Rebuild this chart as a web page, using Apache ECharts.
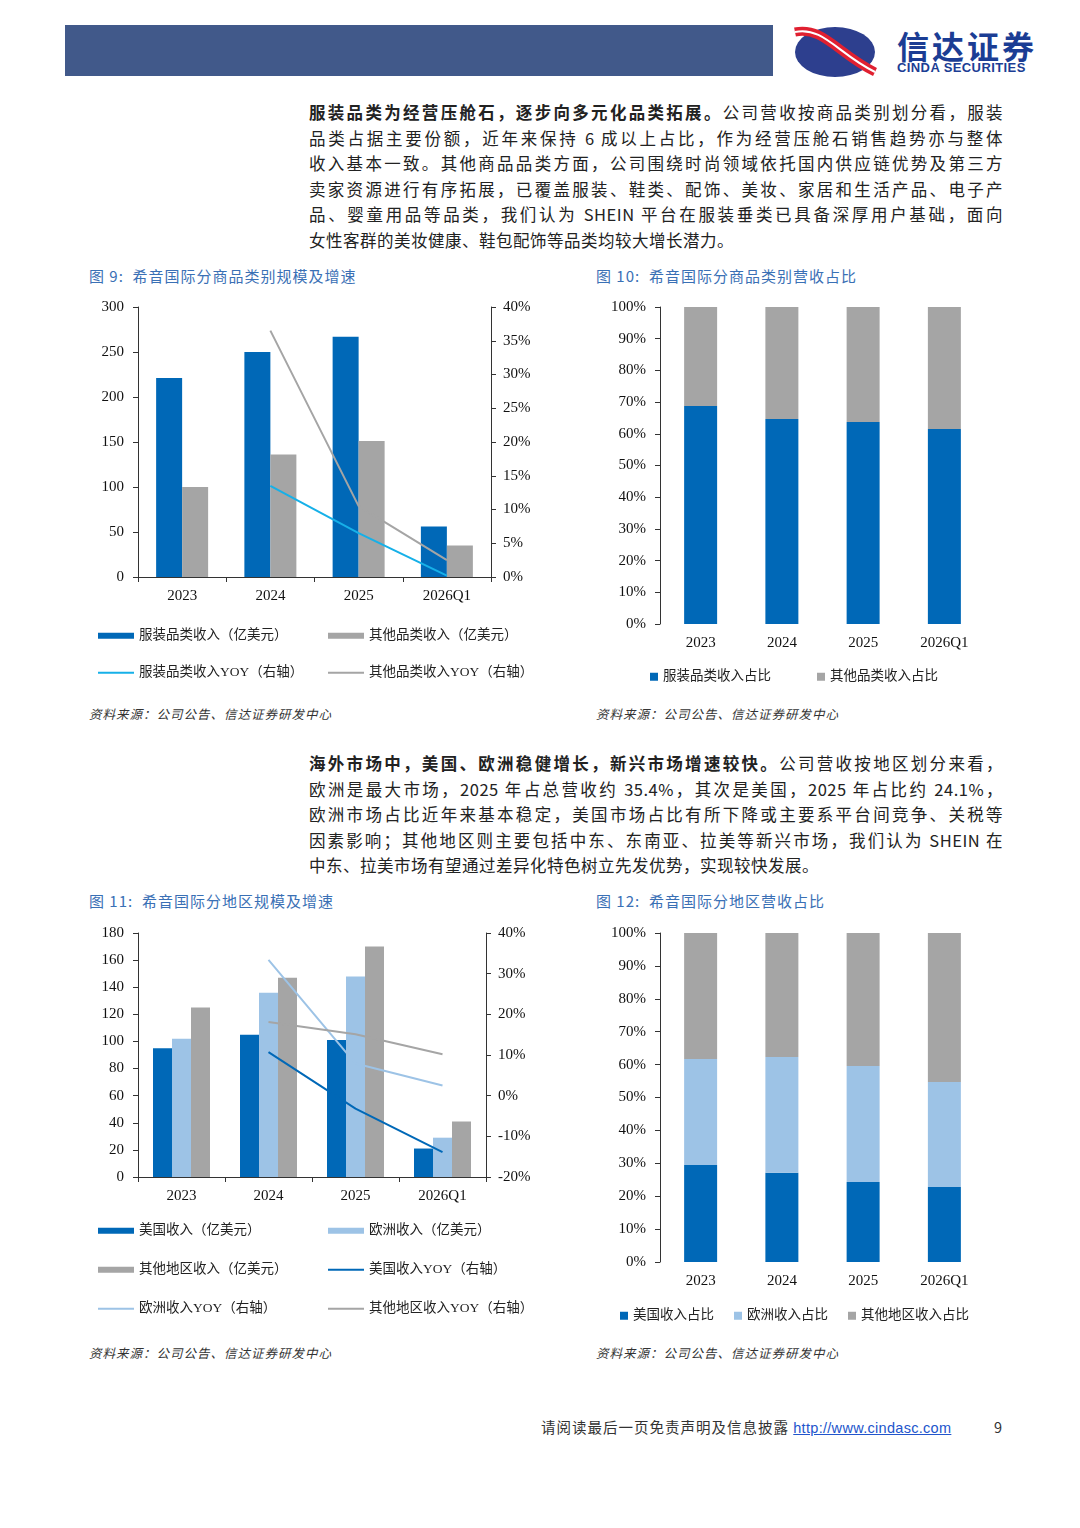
<!DOCTYPE html>
<html><head><meta charset="utf-8">
<script src="https://cdn.jsdelivr.net/npm/echarts@6/dist/echarts.min.js"></script>
<style>
body{margin:0;width:1080px;height:1528px;position:relative;background:#fff;font-family:"Noto Sans CJK SC",sans-serif;overflow:hidden}
.abs{position:absolute}
.para{left:309px;width:694px;font-size:16.5px;line-height:25.5px;color:#222}
.para div{text-align:justify;text-align-last:justify;white-space:nowrap;letter-spacing:0.5px}
.para div.last{text-align-last:left}
.cap{font-size:15px;color:#3a70b5;letter-spacing:1px}
.src{font-size:12.5px;color:#333;font-style:italic;letter-spacing:1px}
</style></head><body>
<div class="abs" style="left:65px;top:25px;width:708px;height:51px;background:#41598a"></div>
<svg class="abs" style="left:793px;top:24px" width="85" height="56" viewBox="0 0 85 56">
<ellipse cx="42" cy="28" rx="40" ry="25" fill="#2d3f8e"/>
<path d="M2,8 C30,2 45,30 82,48" stroke="#e02030" stroke-width="9" fill="none"/>
<path d="M2,8 C30,2 45,30 82,48" stroke="#fff" stroke-width="2" fill="none"/>
</svg>
<div class="abs" style="left:897px;top:28px;font-size:32px;font-weight:bold;color:#1b3d94;letter-spacing:3px;line-height:34px">信达证券</div>
<div class="abs" style="left:897px;top:60px;font-size:13px;font-weight:bold;color:#1b3d94;font-family:'Liberation Sans';letter-spacing:0.4px">CINDA SECURITIES</div>

<div class="abs para" style="top:100px">
<div><b>服装品类为经营压舱石，逐步向多元化品类拓展。</b>公司营收按商品类别划分看，服装</div>
<div>品类占据主要份额，近年来保持 6 成以上占比，作为经营压舱石销售趋势亦与整体</div>
<div>收入基本一致。其他商品品类方面，公司围绕时尚领域依托国内供应链优势及第三方</div>
<div>卖家资源进行有序拓展，已覆盖服装、鞋类、配饰、美妆、家居和生活产品、电子产</div>
<div>品、婴童用品等品类，我们认为 SHEIN 平台在服装垂类已具备深厚用户基础，面向</div>
<div class="last">女性客群的美妆健康、鞋包配饰等品类均较大增长潜力。</div>
</div>
<div class="abs cap" style="left:89px;top:265px">图 9:&nbsp; 希音国际分商品类别规模及增速</div>
<div class="abs cap" style="left:596px;top:265px">图 10:&nbsp; 希音国际分商品类别营收占比</div>
<div id="c1" class="abs" style="left:90px;top:295px;width:460px;height:400px"></div>
<div id="c2" class="abs" style="left:595px;top:295px;width:420px;height:400px"></div>
<div class="abs src" style="left:89px;top:704px">资料来源：公司公告、信达证券研发中心</div>
<div class="abs src" style="left:596px;top:704px">资料来源：公司公告、信达证券研发中心</div>

<div class="abs para" style="top:751px">
<div><b>海外市场中，美国、欧洲稳健增长，新兴市场增速较快。</b>公司营收按地区划分来看，</div>
<div>欧洲是最大市场，2025 年占总营收约 35.4%，其次是美国，2025 年占比约 24.1%，</div>
<div>欧洲市场占比近年来基本稳定，美国市场占比有所下降或主要系平台间竞争、关税等</div>
<div>因素影响；其他地区则主要包括中东、东南亚、拉美等新兴市场，我们认为 SHEIN 在</div>
<div class="last">中东、拉美市场有望通过差异化特色树立先发优势，实现较快发展。</div>
</div>
<div class="abs cap" style="left:89px;top:890px">图 11:&nbsp; 希音国际分地区规模及增速</div>
<div class="abs cap" style="left:596px;top:890px">图 12:&nbsp; 希音国际分地区营收占比</div>
<div id="c3" class="abs" style="left:90px;top:920px;width:460px;height:410px"></div>
<div id="c4" class="abs" style="left:595px;top:920px;width:420px;height:410px"></div>
<div class="abs src" style="left:89px;top:1343px">资料来源：公司公告、信达证券研发中心</div>
<div class="abs src" style="left:596px;top:1343px">资料来源：公司公告、信达证券研发中心</div>

<div class="abs" style="left:541px;top:1416px;font-size:14.5px;color:#333;letter-spacing:1px">请阅读最后一页免责声明及信息披露 <span style="color:#2255cc;text-decoration:underline;font-family:'Liberation Sans';letter-spacing:0.3px">http://www.cindasc.com</span></div>
<div class="abs" style="left:994px;top:1416px;font-size:14.5px;color:#333">9</div>

<script>
var categories=['2023','2024','2025','2026Q1'];
var apparelRev=[221,250,267,56];
var otherCatRev=[100,136,151,35];
var apparelYoy=[null,13.5,6.5,0.2];
var otherCatYoy=[null,36.5,10.5,2.5];
var apparelShare=[68.8,64.7,63.7,61.5];
var otherCatShare=[31.2,35.3,36.3,38.5];
var usRev=[95,105,101,21];
var euRev=[102,136,148,29];
var otherRegRev=[125,147,170,41];
var usYoy=[null,10.7,-3.2,-13.9];
var euYoy=[null,33.4,7.9,2.5];
var otherRegYoy=[null,18.1,15.1,10.2];
var usShare=[29.5,27.1,24.3,22.8];
var euShare=[32.2,35.2,35.3,31.9];
var otherRegShare=[38.3,37.7,40.4,45.3];

var SERIF='"Liberation Serif","Times New Roman",serif';
var CJK='"Liberation Serif","Noto Sans CJK SC",serif';
var BLUE='#0068b7',GRAY='#a5a5a5',LBLUE='#9dc3e6',CYAN='#16b0e8';
var axLine={lineStyle:{color:'#333',width:1}};
function lg(name,left,top,icon,w,h){
  return {data:[{name:name,icon:icon||'rect'}],left:left,top:top,itemWidth:w||36,itemHeight:h||6,itemGap:2,
    textStyle:{fontFamily:CJK,fontSize:13.5,color:'#222'},selectedMode:false,padding:0};
}
function xAx(){return {type:'category',data:categories,axisLine:axLine,axisTick:{show:true,length:5,interval:0,lineStyle:{color:'#333'}},axisLabel:{fontFamily:SERIF,fontSize:15,color:'#111',margin:12}};}
function yAx(min,max,iv,fmt,pos){return {type:'value',min:min,max:max,interval:iv,position:pos,splitLine:{show:false},axisLine:{show:true,lineStyle:{color:'#333'}},axisTick:{show:true,length:5,lineStyle:{color:'#333'}},axisLabel:{fontFamily:SERIF,fontSize:15,color:'#111',formatter:fmt,margin:pos==='right'?12:14}};}

var c1=echarts.init(document.getElementById('c1'));
c1.setOption({animation:false,
 grid:{left:48,right:59,top:12,bottom:118},
 legend:[lg('服装品类收入（亿美元）',8,334),lg('其他品类收入（亿美元）',238,334),lg('服装品类收入YOY（右轴）',8,371,'rect',36,2),lg('其他品类收入YOY（右轴）',238,371,'rect',36,2)],
 xAxis:xAx(),
 yAxis:[yAx(0,300,50,'{value}','left'),yAx(0,40,5,'{value}%','right')],
 series:[
  {name:'服装品类收入（亿美元）',type:'bar',data:apparelRev,barWidth:26,barGap:'0%',itemStyle:{color:BLUE}},
  {name:'其他品类收入（亿美元）',type:'bar',data:otherCatRev,barWidth:26,itemStyle:{color:GRAY}},
  {name:'服装品类收入YOY（右轴）',type:'line',yAxisIndex:1,data:apparelYoy,symbol:'none',lineStyle:{color:CYAN,width:2},itemStyle:{color:CYAN}},
  {name:'其他品类收入YOY（右轴）',type:'line',yAxisIndex:1,data:otherCatYoy,symbol:'none',lineStyle:{color:GRAY,width:2},itemStyle:{color:GRAY}}
 ]});

function shareAx(){return {type:'value',min:0,max:100,interval:10,splitLine:{show:false},axisLine:{show:true,lineStyle:{color:'#333'}},axisTick:{show:true,length:5,lineStyle:{color:'#333'}},axisLabel:{fontFamily:SERIF,fontSize:15,color:'#111',formatter:'{value}%',margin:14}};}
function sx(){var a=xAx();a.axisTick={show:false};a.axisLine={show:false};return a;}

var c2=echarts.init(document.getElementById('c2'));
c2.setOption({animation:false,
 grid:{left:65,right:30,top:12,bottom:71},
 legend:[lg('服装品类收入占比',55,375,'rect',8,8),lg('其他品类收入占比',222,375,'rect',8,8)],
 xAxis:sx(),yAxis:shareAx(),
 series:[
  {name:'服装品类收入占比',type:'bar',stack:'s',data:apparelShare,barWidth:33,itemStyle:{color:BLUE}},
  {name:'其他品类收入占比',type:'bar',stack:'s',data:otherCatShare,barWidth:33,itemStyle:{color:GRAY}}
 ]});

var c3=echarts.init(document.getElementById('c3'));
c3.setOption({animation:false,
 grid:{left:48,right:64,top:13,bottom:153},
 legend:[lg('美国收入（亿美元）',8,304),lg('欧洲收入（亿美元）',238,304),
   lg('其他地区收入（亿美元）',8,343),lg('美国收入YOY（右轴）',238,343,'rect',36,2),
   lg('欧洲收入YOY（右轴）',8,382,'rect',36,2),lg('其他地区收入YOY（右轴）',238,382,'rect',36,2)],
 xAxis:xAx(),
 yAxis:[yAx(0,180,20,'{value}','left'),yAx(-20,40,10,'{value}%','right')],
 series:[
  {name:'美国收入（亿美元）',type:'bar',data:usRev,barWidth:19,barGap:'0%',itemStyle:{color:BLUE}},
  {name:'欧洲收入（亿美元）',type:'bar',data:euRev,barWidth:19,barGap:'0%',itemStyle:{color:LBLUE}},
  {name:'其他地区收入（亿美元）',type:'bar',data:otherRegRev,barWidth:19,barGap:'0%',itemStyle:{color:GRAY}},
  {name:'美国收入YOY（右轴）',type:'line',yAxisIndex:1,data:usYoy,symbol:'none',lineStyle:{color:BLUE,width:2},itemStyle:{color:BLUE}},
  {name:'欧洲收入YOY（右轴）',type:'line',yAxisIndex:1,data:euYoy,symbol:'none',lineStyle:{color:LBLUE,width:2},itemStyle:{color:LBLUE}},
  {name:'其他地区收入YOY（右轴）',type:'line',yAxisIndex:1,data:otherRegYoy,symbol:'none',lineStyle:{color:GRAY,width:2},itemStyle:{color:GRAY}}
 ]});

var c4=echarts.init(document.getElementById('c4'));
c4.setOption({animation:false,
 grid:{left:65,right:30,top:13,bottom:68},
 legend:[lg('美国收入占比',25,389,'rect',8,8),lg('欧洲收入占比',139,389,'rect',8,8),lg('其他地区收入占比',253,389,'rect',8,8)],
 xAxis:sx(),yAxis:shareAx(),
 series:[
  {name:'美国收入占比',type:'bar',stack:'s',data:usShare,barWidth:33,itemStyle:{color:BLUE}},
  {name:'欧洲收入占比',type:'bar',stack:'s',data:euShare,barWidth:33,itemStyle:{color:LBLUE}},
  {name:'其他地区收入占比',type:'bar',stack:'s',data:otherRegShare,barWidth:33,itemStyle:{color:GRAY}}
 ]});
</script>
</body></html>
